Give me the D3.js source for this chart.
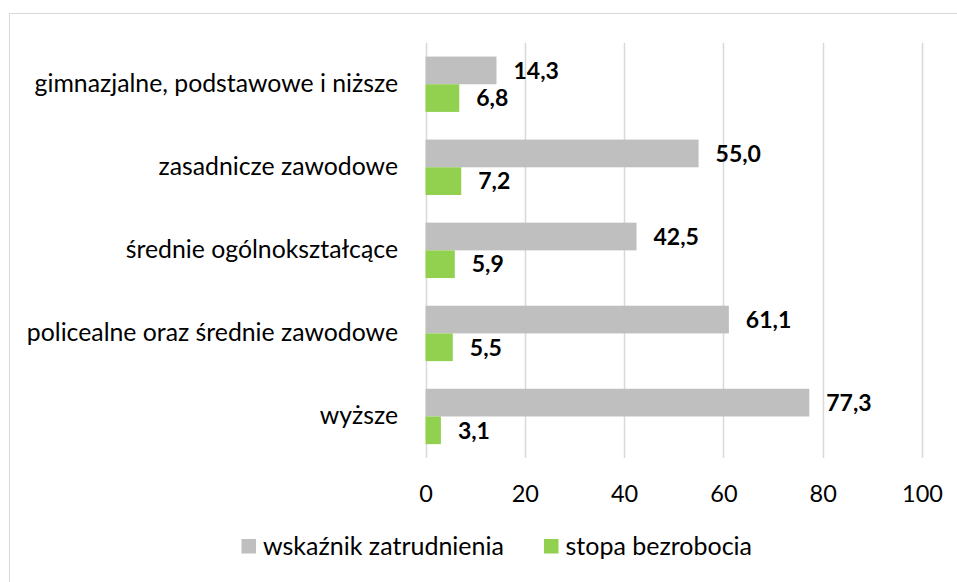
<!DOCTYPE html>
<html>
<head>
<meta charset="utf-8">
<script src="https://cdn.jsdelivr.net/npm/d3@7"></script>
<style>
  body { margin: 0; background: #fff; }
  text { font-family: Lato, "Open Sans", sans-serif; }
</style>
</head>
<body>
<svg id="chart"></svg>
<script>
const width = 957;
const height = 582;

const categories = [
    'gimnazjalne, podstawowe i niższe',
    'zasadnicze zawodowe',
    'średnie ogólnokształcące',
    'policealne oraz średnie zawodowe',
    'wyższe'
];
const seriesNames = ['wskaźnik zatrudnienia', 'stopa bezrobocia'];
const employment = [14.3, 55.0, 42.5, 61.1, 77.3];
const unemployment = [6.8, 7.2, 5.9, 5.5, 3.1];
const ticks = [0, 20, 40, 60, 80, 100];
const colors = ['#BFBFBF', '#92D050'];

const svg = d3.select('#chart')
    .attr('width', width)
    .attr('height', height);

// outer frame (only top/left visible in the picture)
svg.append('rect')
    .attr('x', 9.5).attr('y', 13.5)
    .attr('width', 1000).attr('height', 1000)
    .attr('fill', 'none')
    .attr('stroke', '#D9D9D9');

const x = d3.scaleLinear().domain([0, 100]).range([425.5, 922]);
const y = d3.scaleBand().domain(categories).range([42.7, 458]);
const ySub = d3.scaleBand().domain(seriesNames).range([0, y.bandwidth()]).paddingOuter(0.5);

// gridlines
svg.append('g')
    .selectAll('line').data(ticks).enter().append('line')
    .attr('x1', d => Math.round(x(d)) + 0.5)
    .attr('x2', d => Math.round(x(d)) + 0.5)
    .attr('y1', 42.7).attr('y2', 458)
    .attr('stroke', '#D9D9D9')
    .attr('stroke-width', 1.5);

// x axis labels
const xAxis = svg.append('g')
    .attr('transform', 'translate(0, 458)')
    .call(d3.axisBottom(x).tickValues(ticks).tickSize(0).tickPadding(27));
xAxis.select('.domain').remove();
xAxis.selectAll('text')
    .attr('font-family', 'Lato, sans-serif')
    .attr('font-size', 23.5)
    .attr('fill', '#000');

// y axis labels
const yAxis = svg.append('g')
    .attr('transform', 'translate(398, 0)')
    .call(d3.axisLeft(y).tickSize(0).tickPadding(0));
yAxis.select('.domain').remove();
yAxis.selectAll('text')
    .attr('font-family', 'Lato, sans-serif')
    .attr('font-size', 24.8)
    .attr('fill', '#000');

const rows = categories.map((c, i) => ({
    category: c,
    values: [employment[i], unemployment[i]]
}));

const groups = svg.append('g').selectAll('g').data(rows).enter().append('g')
    .attr('transform', d => `translate(0, ${y(d.category)})`);

groups.selectAll('rect')
    .data(d => d.values.map((v, j) => ({ series: seriesNames[j], value: v, j })))
    .enter().append('rect')
    .attr('x', x(0))
    .attr('y', d => ySub(d.series))
    .attr('width', d => x(d.value) - x(0))
    .attr('height', ySub.bandwidth())
    .attr('fill', d => colors[d.j]);

groups.selectAll('text.val')
    .data(d => d.values.map((v, j) => ({ series: seriesNames[j], value: v })))
    .enter().append('text')
    .attr('class', 'val')
    .attr('x', d => x(d.value) + 17)
    .attr('y', d => ySub(d.series) + ySub.bandwidth() / 2)
    .attr('dy', '0.36em')
    .attr('font-size', 23)
    .attr('font-weight', 'bold')
    .attr('fill', '#000')
    .text(d => d3.format('.1f')(d.value).replace('.', ','));

// legend
const legendX = [241.5, 544];
const legend = svg.append('g').selectAll('g').data(seriesNames).enter().append('g')
    .attr('transform', (d, i) => `translate(${legendX[i]}, 539)`);
legend.append('rect')
    .attr('width', 14.5).attr('height', 14.5)
    .attr('fill', (d, i) => colors[i]);
legend.append('text')
    .attr('x', 21.5).attr('y', 7.5)
    .attr('dy', '0.35em')
    .attr('font-size', 25)
    .attr('fill', '#000')
    .text(d => d);
</script>
</body>
</html>
